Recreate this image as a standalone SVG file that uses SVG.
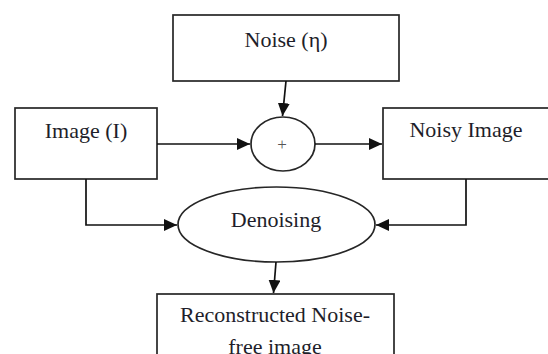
<svg xmlns="http://www.w3.org/2000/svg" width="548" height="354" viewBox="0 0 548 354">
<style>
.box{fill:#fff;stroke:#262626;stroke-width:1.7}
.lbl{font-family:"Liberation Serif","Times New Roman",serif;font-size:22px;fill:#1e1e2a;text-anchor:middle}
.con{fill:none;stroke:#111;stroke-width:1.7}
</style>
<defs>
<marker id="ah" markerWidth="14" markerHeight="12" refX="13" refY="6" orient="auto" markerUnits="userSpaceOnUse">
<path d="M0,0 L13,6 L0,12 Z" fill="#111"/>
</marker>
</defs>
<rect width="548" height="354" fill="#fff"/>
<g id="noise">
<rect class="box" x="173" y="15" width="226" height="66"/>
<text class="lbl" x="286" y="47">Noise (η)</text>
</g>
<g id="image">
<rect class="box" x="15" y="108" width="142" height="71"/>
<text class="lbl" x="86" y="138">Image (I)</text>
</g>
<g id="sum">
<ellipse class="box" cx="283" cy="144" rx="32" ry="27"/>
<text x="282" y="150" style="font-family:'Liberation Serif','Times New Roman',serif;font-size:17px;fill:#555;text-anchor:middle">+</text>
</g>
<g id="noisy">
<rect class="box" x="383" y="108" width="166" height="71"/>
<text class="lbl" x="466" y="137">Noisy Image</text>
</g>
<g id="denoising">
<ellipse class="box" cx="276.5" cy="224.5" rx="98.5" ry="37.5"/>
<text class="lbl" x="276" y="227">Denoising</text>
</g>
<g id="reconstructed">
<rect class="box" x="157" y="294" width="237" height="80"/>
<text class="lbl" x="275" y="322">Reconstructed Noise-</text>
<text class="lbl" x="275" y="354">free image</text>
</g>
<g id="connectors">
<path class="con" d="M286,81 L282.5,116" marker-end="url(#ah)"/>
<path class="con" d="M157,144 L250,144" marker-end="url(#ah)"/>
<path class="con" d="M315,144 L382,144" marker-end="url(#ah)"/>
<path class="con" d="M86,179 L86,225 L177,225" marker-end="url(#ah)"/>
<path class="con" d="M466,179 L466,225 L376,225" marker-end="url(#ah)"/>
<path class="con" d="M276,262 L273.5,293" marker-end="url(#ah)"/>
</g>
</svg>
